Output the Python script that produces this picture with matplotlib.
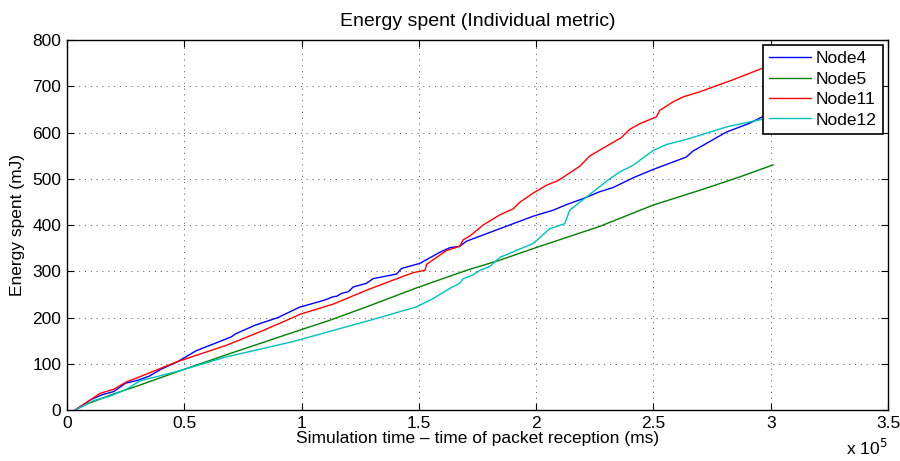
import numpy as np
import matplotlib
matplotlib.use("Agg")
import matplotlib.pyplot as plt
from matplotlib.ticker import FuncFormatter, MultipleLocator

# Время в мс, энергия в мДж
t_node4 = [3500, 10000, 15000, 20000, 25000, 30000, 35000, 40000, 47000, 55000, 60000,
           70000, 72000, 80000, 90000, 99000, 110000, 113500, 115000, 117000, 120000,
           122000, 127700, 130500, 140500, 142600, 150400, 156100, 158900, 163200,
           167400, 170300, 184500, 198700, 207200, 212900, 220000, 227100, 232800,
           241300, 249800, 264000, 266900, 281100, 291000, 296000, 300000]
e_node4 = [0, 22, 33, 40, 58, 64, 73, 88, 104, 128, 138,
           158, 165, 183, 200, 222, 238, 245, 246, 252, 256,
           266, 274, 284, 294, 306, 317, 333, 341, 351,
           354, 365, 392, 419, 432, 444, 457, 472, 481,
           502, 520, 547, 560, 601, 620, 633, 640]

t_node5 = [3500, 8000, 20000, 30000, 50000, 70000, 100000, 112000, 127700, 149000,
           170300, 184500, 198700, 212900, 227100, 249800, 269700, 286800, 301000]
e_node5 = [0, 12, 35, 52, 88, 123, 174, 194, 223, 264,
           302, 324, 349, 373, 397, 443, 475, 504, 530]

t_node11 = [3500, 8000, 14100, 20000, 25400, 31100, 46700, 68000, 82200, 96400, 99300,
            113500, 127700, 139100, 147600, 152600, 153300, 161800, 167400, 168900,
            171700, 177400, 184500, 190200, 193000, 198700, 204400, 209300, 218600,
            222800, 227100, 236300, 239900, 244200, 251300, 252700, 258300, 262600,
            269700, 283900, 296000, 300000]
e_node11 = [0, 15, 36, 45, 61, 72, 104, 140, 169, 200, 207,
            229, 259, 281, 297, 302, 315, 345, 354, 368,
            376, 400, 422, 435, 449, 469, 486, 496, 527,
            549, 562, 589, 607, 619, 634, 648, 666, 677,
            688, 714, 738, 745]

t_node12 = [3500, 11200, 18300, 25400, 31100, 46700, 68000, 96400, 116300, 130600,
            149000, 156100, 163200, 167400, 168900, 173100, 176000, 180200, 184500,
            198700, 205800, 212200, 214300, 222800, 231400, 235700, 241300, 249800,
            255500, 264000, 269700, 281100, 293900, 300000]
e_node12 = [0, 20, 30, 45, 63, 83, 115, 148, 176, 196,
            223, 241, 263, 274, 284, 292, 302, 310, 330,
            360, 392, 403, 432, 466, 500, 515, 529, 561,
            574, 585, 594, 612, 626, 632]

series = [
    ("Node4", t_node4, e_node4, "#0000ff"),
    ("Node5", t_node5, e_node5, "#008000"),
    ("Node11", t_node11, e_node11, "#ff0000"),
    ("Node12", t_node12, e_node12, "#00bfbf"),
]

plt.rcParams['font.family'] = ['Liberation Sans', 'DejaVu Sans']
plt.rcParams['font.size'] = 12.5

fig = plt.figure(figsize=(9, 4.61), dpi=100)
ax = fig.add_axes([0.0744, 0.1106, 0.9123, 0.8026])

for name, t, e, c in series:
    ax.plot(t, e, color=c, lw=1.0, label=name)

ax.set_xlim(0, 350000)
ax.set_ylim(0, 800)
ax.xaxis.set_major_locator(MultipleLocator(50000))
ax.yaxis.set_major_locator(MultipleLocator(100))
ax.xaxis.set_major_formatter(FuncFormatter(lambda v, p: f"{v / 1e5:g}"))

ax.grid(True, linestyle=(0, (1, 5)), color='#555555', lw=0.7)
ax.tick_params(direction='in', top=True, right=True, length=5, width=0.8,
               labelsize=12.5, pad=4)
for s in ax.spines.values():
    s.set_linewidth(1.0)

ax.set_title("Energy spent (Individual metric)", fontsize=14, pad=10)
ax.set_xlabel("Simulation time \u2013 time of packet reception (ms)", fontsize=12.5, labelpad=0)
ax.set_ylabel("Energy spent (mJ)", fontsize=12.5, labelpad=5)
ax.text(1.0, -0.075, r"x 10$^{5}$", transform=ax.transAxes, ha='right', va='top', fontsize=12.5)

leg = ax.legend(loc='upper right', fancybox=False, edgecolor='black', framealpha=1,
                borderaxespad=0.3, handlelength=2.4, handletextpad=0.3,
                labelspacing=0.3, borderpad=0.35, fontsize=12.5)
leg.get_frame().set_linewidth(1.2)

fig.savefig("out.png", dpi=100)
